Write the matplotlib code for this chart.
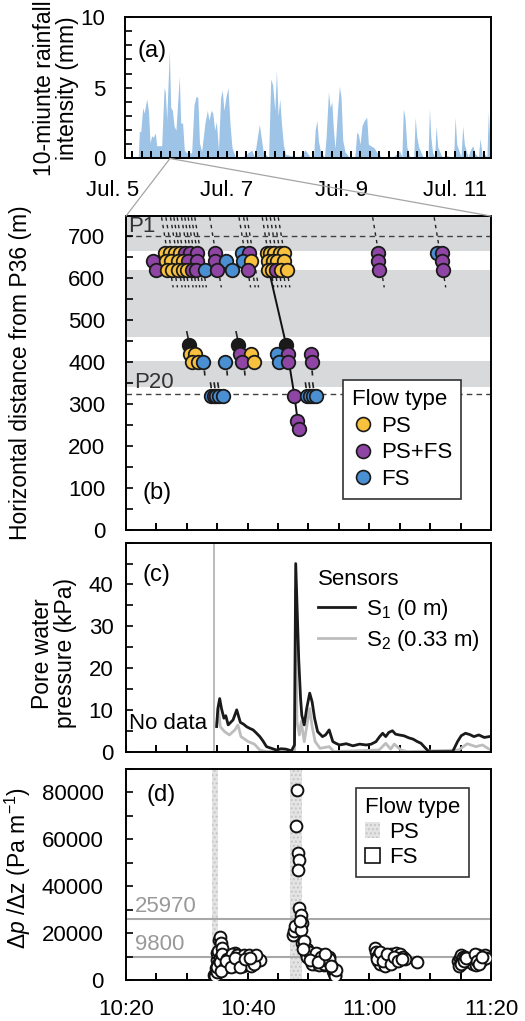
import matplotlib.pyplot as plt
from matplotlib.patches import ConnectionPatch, Patch
from matplotlib.lines import Line2D

plt.rcParams['font.family'] = ['Liberation Sans', 'DejaVu Sans']
plt.rcParams['font.size'] = 16
plt.rcParams['mathtext.fontset'] = 'custom'
plt.rcParams['mathtext.rm'] = 'Liberation Sans'
plt.rcParams['mathtext.it'] = 'Liberation Sans:italic'
plt.rcParams['axes.linewidth'] = 1.4
plt.rcParams['xtick.direction'] = 'in'
plt.rcParams['ytick.direction'] = 'in'

# (a) 10-minute rainfall, hours after Jul. 5 00:00
rain_h = [10.6, 11.1, 11.7, 12.5, 13.1, 14.2, 14.9, 15.6, 16.3, 17.0, 17.8, 18.4, 19.1, 19.8, 20.5,
          21.5, 22.0, 22.6, 23.7, 24.3, 25.0, 25.7, 26.5, 27.9, 28.5, 29.3, 30.0, 31.0, 32.2, 33.1,
          34.1, 35.0, 35.7, 36.4, 37.3, 38.7, 39.7, 40.4, 41.3, 42.0, 42.8, 43.5, 44.4, 45.3, 46.0,
          46.7, 47.6, 48.4, 49.3, 50.1, 51.4, 53.0, 55.0, 58.4, 59.5, 61.6, 63.3, 65.5, 66.4, 67.2,
          68.1, 68.8, 69.5, 70.2, 70.9, 71.7, 72.6, 75.9, 78.7, 80.8, 81.3, 83.0, 84.4, 85.1, 85.8,
          86.5, 87.4, 89.0, 89.7, 90.7, 91.4, 92.1, 92.8, 93.5, 94.5, 95.3, 96.0, 96.7, 97.7, 99.5,
          101.8, 102.6, 103.3, 104.0, 104.8, 105.8, 106.8, 107.5, 109.9, 111.0, 113.0, 115.9, 118.0,
          120.6, 121.6, 122.2, 122.9, 123.7, 125.0, 126.6, 127.2, 127.9, 128.7, 130.5, 132.6, 133.2,
          133.8, 134.5, 135.4, 136.0, 136.7, 138.5, 140.5, 142.5, 143.4, 144.0, 144.7, 146.5, 147.2,
          147.9, 149.5, 150.3, 151.4, 152.4, 153.8, 154.5, 155.5, 156.2, 157.4, 158.0, 158.7, 159.0]
rain_mm = [0, 1.9, 1.9, 3.6, 3.2, 4.2, 3.4, 1.1, 1.6, 1.5, 1.8, 0.9, 0.9, 0.9, 0.9,
           5.0, 4.7, 2.7, 7.6, 3.6, 3.4, 2.3, 2.0, 5.8, 2.5, 2.5, 0.6, 0.4, 0.4, 0.4,
           3.8, 4.4, 4.3, 1.1, 0.5, 2.5, 3.4, 2.7, 3.4, 3.2, 2.0, 2.6, 0.6, 4.3, 4.8,
           3.4, 4.4, 5.0, 2.3, 0.75, 0.15, 0.1, 0.15, 0.6, 0.1, 2.4, 0.4, 0.1, 5.6, 5.2,
           3.4, 6.2, 3.0, 4.2, 2.5, 1.0, 0.3, 0.15, 0.15, 0.6, 0.5, 0.1, 0.1, 2.0, 2.7,
           1.2, 0.45, 0.1, 1.5, 4.7, 3.6, 4.0, 2.0, 0.7, 3.4, 5.1, 4.3, 1.3, 0.45, 0.1,
           0.1, 1.85, 1.7, 1.0, 2.3, 2.7, 2.9, 1.0, 0.75, 0.45, 0.1, 0.15, 0.1,
           0.55, 0.1, 3.5, 2.9, 0.8, 0.1, 0.1, 2.9, 1.5, 0.8, 0.1, 0.1, 3.5,
           1.5, 0.45, 0.1, 2.3, 0.8, 0.1, 0.2, 0.1, 0.1, 2.9, 1.0, 0.1, 2.3,
           1.0, 0.1, 0.55, 0.9, 0.35, 0.1, 1.4, 0.1, 0.35, 0.1, 3.3, 0.9, 0.9]
day_h = [0, 48, 96, 144]
day_lbl = ['Jul. 5', 'Jul. 7', 'Jul. 9', 'Jul. 11']
zoom_h = 24.0

# (b) flow fronts, minutes after 10:20 vs distance from P36 (m)
b_t = [6.4, 7.2, 8.0, 8.9, 9.7, 10.5, 11.7, 14.6, 19.0, 20.3, 23.1, 23.7, 24.4, 25.3, 25.9, 41.5, 51.2, 52.0,
       4.5, 6.6, 7.4, 8.6, 9.4, 10.2, 11.7, 14.6, 16.5, 19.2, 20.6, 23.3, 24.1, 24.9, 26.0, 41.5, 52.0,
       5.0, 6.8, 7.6, 8.5, 9.3, 10.1, 10.9, 11.5, 13.0, 15.0, 17.5, 20.05, 23.3, 24.0, 24.6, 25.4, 26.4, 41.6, 52.1,
       10.4, 18.4, 26.3,
       10.6, 11.4, 18.8, 20.6, 24.8, 26.6, 30.4,
       10.9, 11.8, 12.7, 16.2, 19.1, 21.1, 25.1, 26.7, 30.5,
       14.0, 14.4, 14.8, 15.3, 16.0, 27.7, 29.7, 30.2, 30.7, 31.3,
       28.1, 28.4]
b_y = [660] * 18 + [640] * 17 + [620] * 19 + [440] * 3 + [420] * 7 + [400] * 9 + [320] * 10 + [260, 240]
b_type = ['PS', 'PS', 'PS', 'PS', 'PF', 'PF', 'PF', 'PF', 'FS', 'PF', 'PS', 'PS', 'PS', 'PS', 'PS', 'PF', 'FS', 'PF',
          'PF', 'PS', 'PS', 'PS', 'PS', 'PF', 'PF', 'PF', 'FS', 'FS', 'PS', 'PS', 'PS', 'PS', 'PS', 'PF', 'PF',
          'PF', 'PS', 'PS', 'PS', 'PS', 'PS', 'PF', 'PF', 'FS', 'PF', 'FS', 'PF', 'PS', 'PS', 'PF', 'PS', 'PS', 'PF', 'PF',
          'X', 'X', 'X',
          'PS', 'PS', 'PF', 'PS', 'FS', 'PF', 'PF',
          'PS', 'PS', 'FS', 'FS', 'PF', 'PS', 'FS', 'PF', 'PF',
          'FS', 'PF', 'FS', 'FS', 'FS', 'PF', 'FS', 'FS', 'FS', 'FS',
          'PF', 'PF']
b_col = {'PS': '#f8c23e', 'PF': '#8f45a3', 'FS': '#4b8fd3', 'X': '#1a1a1a'}
trk_t = [5.85, 6.56, 7.32, 7.87, 8.42, 9.13, 9.67, 10.22, 10.77, 11.31, 13.77,
         18.58, 19.34, 19.89, 22.4, 23.06, 23.72, 24.37, 25.03, 40.55, 50.66]
seg_t0 = [10.0, 18.1, 12.9, 16.6, 19.5, 30.6, 13.9, 14.5, 15.1, 29.5, 30.1, 30.7]
seg_t1 = [10.2, 18.3, 12.95, 16.65, 19.55, 30.65, 14.0, 14.6, 15.2, 29.6, 30.2, 30.8]
seg_y0 = [472, 472, 378, 378, 378, 378, 350, 350, 350, 350, 350, 350]
seg_y1 = [458, 458, 370, 370, 370, 370, 340, 340, 340, 340, 340, 340]
front_t = [23.6, 26.3, 27.7, 28.4]
front_y = [612, 443, 319, 240]
gray_lo = [665, 459, 340]
gray_hi = [760, 619, 403]

# (c) pore water pressure (kPa)
s1_t = [14.9, 15.1, 15.4, 15.7, 16.1, 16.4, 16.8, 17.2, 17.6, 18.2, 18.8, 19.3, 19.8, 20.3, 20.9, 21.4,
        22.0, 22.5, 23.1, 23.9, 24.7, 25.5, 26.3, 27.2, 27.7, 27.9, 28.4, 28.7, 28.9, 29.3, 29.7, 30.2,
        30.6, 31.0, 31.5, 31.9, 32.3, 32.8, 33.4, 34.0, 34.5, 35.1, 36.2, 37.3, 38.4, 39.5, 40.3, 41.1,
        41.7, 42.2, 42.7, 43.2, 43.8, 44.3, 44.9, 45.7, 46.5, 47.2, 47.9, 48.5, 49.0, 49.8, 53.7, 54.5,
        55.1, 55.8, 56.5, 57.2, 58.0, 58.9, 59.7]
s1_p = [6.0, 10.3, 12.7, 10.3, 8.0, 8.6, 6.4, 7.0, 7.6, 10.0, 7.0, 6.6, 6.0, 5.6, 5.2, 4.5,
        3.6, 2.6, 1.2, 0.8, 0.4, 0.7, 0.6, 0.2, 1.6, 45.0, 21.9, 12.7, 8.7, 6.4, 10.3, 14.0,
        11.9, 8.0, 4.8, 4.2, 3.6, 4.0, 5.2, 2.4, 2.0, 1.6, 1.9, 1.4, 1.8, 1.6, 1.8, 2.4,
        3.6, 4.4, 3.6, 4.6, 5.0, 4.2, 4.0, 3.8, 3.3, 3.0, 2.4, 2.0, 1.2, 0.0, 0.0, 2.4,
        3.8, 4.4, 4.1, 3.6, 4.0, 3.4, 3.6]
s2_t = [14.9, 15.2, 15.5, 16.2, 17.0, 17.9, 18.4, 18.9, 20.1, 21.1, 22.0, 23.1, 27.7, 27.9, 28.1, 28.5,
        28.8, 29.3, 30.2, 30.6, 31.1, 31.9, 33.4, 34.2, 41.6, 42.7, 43.5, 44.1, 45.2, 46.3, 54.7, 56.1,
        57.5, 58.6, 59.7]
s2_p = [6.4, 10.3, 6.0, 4.8, 4.0, 5.2, 6.4, 3.6, 2.4, 1.8, 0.4, 0.0, 0.0, 39.0, 7.2, 4.0,
        7.2, 2.4, 10.3, 6.0, 2.4, 0.8, 1.2, 0.0, 0.4, 2.0, 0.6, 1.8, 0.4, 0.0, 0.4, 1.9,
        1.2, 1.6, 0.6]
nodata_t = 14.4

# (d) pressure gradient (Pa/m)
d_t = [14.5, 14.6, 14.7, 14.8, 14.9, 14.9, 15.0, 15.1, 15.2, 15.3, 15.4, 15.5, 15.6, 15.7, 15.8, 15.9,
       16.0, 16.1, 16.3, 16.5, 16.7, 16.9, 17.1, 17.3, 17.5, 17.7, 17.9, 18.1, 18.3, 18.5, 18.7, 18.9,
       19.1, 19.3, 19.5, 19.7, 19.9, 20.1, 20.3, 20.5, 20.7, 20.9, 21.1, 21.3, 21.5, 21.8, 22.0,
       15.0, 15.4, 15.8, 16.2, 16.6, 17.0, 17.4, 17.8, 18.2, 18.6, 19.0, 19.4, 19.8, 20.2, 20.6, 21.0,
       21.4, 15.6, 16.4, 17.2, 18.0, 18.8, 19.6, 20.4,
       27.4, 27.6, 27.8, 27.9, 28.1, 28.2, 28.5, 28.3, 28.5, 28.8, 29.0, 28.8, 28.6, 29.0, 29.2, 29.4,
       29.6, 29.8, 30.0, 30.2, 30.4, 30.6, 30.8, 31.0, 31.2, 31.4, 31.6, 31.8, 32.0, 32.2, 32.4, 32.6,
       32.8, 33.0, 33.2, 33.4, 33.6, 33.8, 34.0, 34.2, 34.3, 34.4, 34.5,
       29.3, 29.7, 30.1, 30.5, 30.9, 31.3, 31.7, 32.1, 32.5, 32.9, 33.3, 33.7, 29.1, 30.3, 31.5, 32.7,
       41.0, 41.1, 41.3, 41.5, 41.6, 41.8, 42.0, 42.2, 42.4, 42.6, 42.8, 43.0, 43.2, 43.4, 43.6, 43.8,
       44.0, 44.2, 44.4, 44.6, 44.8, 45.0, 45.2, 45.5, 45.8, 47.9,
       41.2, 41.7, 42.3, 42.9, 43.5, 44.1, 44.7, 45.3,
       54.6, 54.8, 54.9, 55.0, 55.2, 55.4, 55.6, 55.8, 56.0, 56.3, 57.0, 57.2, 57.4, 57.6, 57.8, 58.0,
       58.3, 58.6, 59.0, 59.1, 55.1, 55.5, 55.9, 57.3, 57.7, 58.1, 58.5]
d_g = [2100, 600, 1500, 5000, 8500, 3500, 11400, 7000, 12500, 17000, 18500, 9500, 15700, 13500, 10500, 8500,
       6500, 9000, 7500, 10000, 8000, 6500, 9500, 7000, 10500, 8500, 11500, 9000, 6500, 8000, 10000, 7500,
       9000, 6000, 8500, 10000, 7000, 9500, 6500, 8000, 10000, 7500, 9000, 8000, 9500, 8500, 8500,
       5500, 7500, 11000, 5500, 9000, 7500, 11000, 6000, 10500, 9000, 6500, 10500, 8000, 10500, 6000, 7000,
       10500, 4000, 8000, 5500, 9500, 5500, 9000, 9500,
       19200, 21000, 23000, 65500, 80800, 54100, 51300, 47000, 30600, 27800, 24200, 21400, 25000, 15700, 14000, 12800,
       11500, 13000, 10500, 9000, 11000, 8000, 10000, 7000, 10000, 8500, 11000, 9000, 7500, 10500, 8500, 6500,
       9500, 10000, 8000, 10000, 7000, 5500, 4000, 3000, 2000, 1500, 4300,
       16500, 10000, 12000, 7000, 9000, 11500, 6500, 10000, 7000, 8500, 9000, 6000, 13000, 8500, 7500, 11000,
       13500, 12000, 10000, 8000, 11000, 7000, 9500, 10500, 8500, 6000, 9000, 10000, 7500, 9500, 11000, 8000,
       10500, 9000, 11500, 8500, 10000, 11000, 9500, 10000, 9000, 7800,
       9000, 12000, 8000, 11000, 7000, 10000, 8000, 9000,
       8000, 5800, 9500, 10700, 8500, 9800, 7500, 10000, 9000, 8500, 7000, 9500, 8500, 6500, 10700, 9000,
       8000, 9500, 10500, 9500, 7000, 8000, 9500, 11000, 8000, 7000, 10000]
ps_start = [14.2, 26.9]
ps_end = [15.1, 29.0]
g_ref = [25970, 9800]

fig = plt.figure(figsize=(5.25, 10.21), dpi=100)
ax_a = fig.add_axes([0.2381, 0.8448, 0.6966, 0.1386])
ax_b = fig.add_axes([0.24, 0.4809, 0.6952, 0.3075])
ax_c = fig.add_axes([0.24, 0.2638, 0.6952, 0.2047])
ax_d = fig.add_axes([0.24, 0.0402, 0.6952, 0.2067])

# --- (a)
ax_a.fill_between(rain_h, rain_mm, 0, color='#9dc3e6', lw=0)
ax_a.set_xlim(5.05, 159.0)
ax_a.set_ylim(0, 10)
ax_a.set_yticks([0, 5, 10])
ax_a.set_yticks(range(0, 11), minor=True)
ax_a.set_xticks(range(8, 159, 4))
ax_a.set_xticklabels([])
ax_a.tick_params(axis='x', length=5, width=1.4)
ax_a.tick_params(axis='y', which='both', length=5, width=1.2, pad=14)
for h, lb in zip(day_h, day_lbl):
    ax_a.text(h, -0.15, lb, transform=ax_a.get_xaxis_transform(), ha='center', va='top')
ax_a.text(0.035, 0.76, '(a)', transform=ax_a.transAxes, va='center', fontsize=17)
ax_a.set_ylabel('10-miunte rainfall\nintensity (mm)', linespacing=1.0, fontsize=16.5)
ax_a.yaxis.set_label_coords(-0.125, 0.5)

# --- (b)
for lo, hi in zip(gray_lo, gray_hi):
    ax_b.axhspan(lo, hi, color='#d8d9db', lw=0, zorder=0)
ax_b.axhline(700, color='#404040', lw=1, dashes=(4, 3), zorder=1)
ax_b.axhline(324, color='#404040', lw=1, dashes=(4, 3), zorder=1)
ax_b.text(0.3, 724, 'P1', va='center', color='#333333')
ax_b.text(1.4, 352, 'P20', va='center', color='#333333')
for t in trk_t:
    ax_b.plot([t, t + 1.9], [745, 578], color='#222222', lw=1, dashes=(2.5, 3), zorder=2)
for t0, t1, y0, y1 in zip(seg_t0, seg_t1, seg_y0, seg_y1):
    ax_b.plot([t0, t1], [y0, y1], color='#222222', lw=1.2, zorder=2)
ax_b.plot(front_t, front_y, color='#111111', lw=1.4, zorder=3)
for t, y, k in zip(b_t, b_y, b_type):
    ax_b.scatter(t, y, s=95, color=b_col[k], edgecolors='#1a1a1a', linewidths=1.3, zorder=4)
ax_b.set_xlim(0, 60)
ax_b.set_ylim(0, 748)
ax_b.set_xticks(range(0, 61, 5))
ax_b.set_xticklabels([])
ax_b.set_yticks(range(0, 701, 100))
ax_b.set_yticks(range(0, 701, 50), minor=True)
ax_b.tick_params(axis='x', length=5, width=1.4)
ax_b.tick_params(axis='y', which='both', length=5, width=1.2, pad=15)
ax_b.text(0.046, 0.118, '(b)', transform=ax_b.transAxes, va='center', fontsize=17)
ax_b.set_ylabel('Horizontal distance from P36 (m)', fontsize=16.5)
ax_b.yaxis.set_label_coords(-0.257, 0.5)
hb = [Line2D([], [], ls='', marker='o', ms=10, mfc=b_col[k], mec='#1a1a1a', mew=1.2)
      for k in ['PS', 'PF', 'FS']]
leg = ax_b.legend(hb, ['PS', 'PS+FS', 'FS'], title='Flow type', loc='lower right',
                  bbox_to_anchor=(0.948, 0.064), fancybox=False, edgecolor='#333333',
                  framealpha=1, handletextpad=0.3, borderpad=0.4, labelspacing=0.25,
                  handlelength=1.0, title_fontsize=16, alignment='left')
leg.get_frame().set_linewidth(1.2)

# --- (c)
ax_c.axvline(nodata_t, color='#b5b5b5', lw=1.3)
ax_c.plot(s2_t, s2_p, color='#bdbdbd', lw=2.0, label='S$_2$ (0.33 m)')
ax_c.plot(s1_t, s1_p, color='#1a1a1a', lw=2.0, label='S$_1$ (0 m)')
ax_c.text(13.4, 6.8, 'No data', ha='right', va='center')
ax_c.set_xlim(0, 60)
ax_c.set_ylim(0, 50)
ax_c.set_xticks(range(0, 61, 5))
ax_c.set_xticklabels([])
ax_c.set_yticks(range(0, 41, 10))
ax_c.set_yticks(range(0, 51, 5), minor=True)
ax_c.tick_params(axis='x', length=5, width=1.4)
ax_c.tick_params(axis='y', which='both', length=5, width=1.2, pad=9)
ax_c.text(0.046, 0.845, '(c)', transform=ax_c.transAxes, va='center', fontsize=17)
ax_c.set_ylabel('Pore water\npressure (kPa)', linespacing=1.0, fontsize=16.5)
ax_c.yaxis.set_label_coords(-0.135, 0.47)
hc, lc = ax_c.get_legend_handles_labels()
ax_c.legend(hc[::-1], lc[::-1], title='Sensors', loc='upper left', bbox_to_anchor=(0.47, 0.97),
            frameon=False, handlelength=1.7, handletextpad=0.5, labelspacing=0.3,
            title_fontsize=16, alignment='left')

# --- (d)
for a, b in zip(ps_start, ps_end):
    ax_d.axvspan(a, b, facecolor='#e4e4e4', edgecolor='#c6c6c6', hatch='....', lw=0, zorder=0)
for g in g_ref:
    ax_d.axhline(g, color='#a8a8a8', lw=1.5, zorder=1)
    ax_d.text(0.025, g + 800, str(g), transform=ax_d.get_yaxis_transform(), color='#999999',
              va='bottom', ha='left')
ax_d.scatter(d_t, d_g, s=72, facecolors='white', edgecolors='#111111', linewidths=1.4, zorder=3)
ax_d.set_xlim(0, 60)
ax_d.set_ylim(0, 90000)
ax_d.set_xticks(range(0, 61, 20))
ax_d.set_xticklabels(['10:20', '10:40', '11:00', '11:20'])
ax_d.set_xticks(range(0, 61, 5), minor=True)
ax_d.set_yticks(range(0, 80001, 20000))
ax_d.set_yticks(range(0, 90001, 10000), minor=True)
ax_d.tick_params(axis='x', which='both', length=5, width=1.4, pad=14)
ax_d.tick_params(axis='y', which='both', length=5, width=1.2, pad=16)
ax_d.text(0.057, 0.877, '(d)', transform=ax_d.transAxes, va='center', fontsize=17)
ax_d.set_ylabel(r'Δ$p$ /Δz (Pa m$^{-1}$)', fontsize=16.5)
ax_d.yaxis.set_label_coords(-0.255, 0.53)
hd = [Patch(facecolor='#e4e4e4', edgecolor='#c6c6c6', hatch='....', lw=0),
      Patch(facecolor='white', edgecolor='#111111', lw=1.2)]
leg = ax_d.legend(hd, ['PS', 'FS'], title='Flow type', loc='upper right',
                  bbox_to_anchor=(0.97, 0.964), fancybox=False, edgecolor='#333333',
                  framealpha=1, handlelength=0.7, handleheight=0.7, handletextpad=0.4,
                  labelspacing=0.2, borderpad=0.4, title_fontsize=16, alignment='left')
leg.get_frame().set_linewidth(1.2)

# zoom lines from (a) to (b)
for xb in [0, 1]:
    con = ConnectionPatch(xyA=(zoom_h, 0), coordsA=ax_a.transData, xyB=(xb, 1),
                          coordsB=ax_b.transAxes, color='#a5a5a5', lw=0.9)
    fig.add_artist(con)

fig.savefig('out.png', dpi=100)
